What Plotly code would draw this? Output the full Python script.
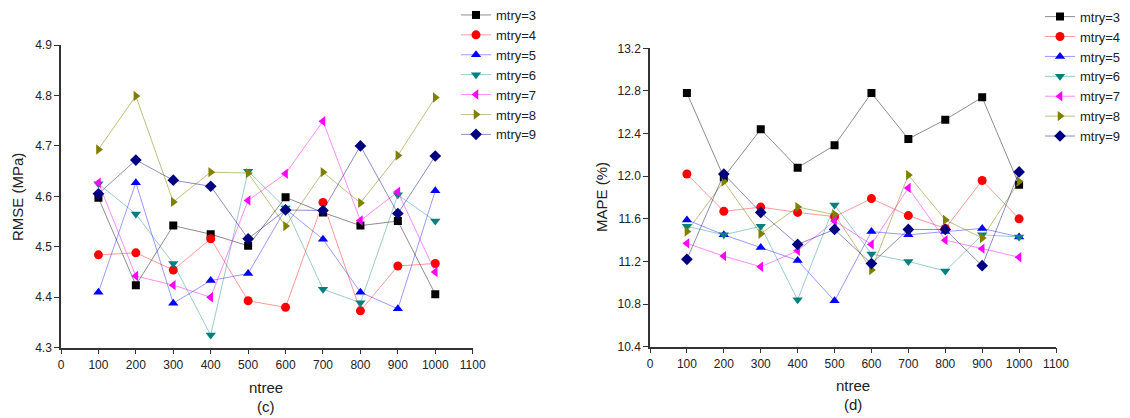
import plotly.graph_objects as go

ntree = [100, 200, 300, 400, 500, 600, 700, 800, 900, 1000]
series_names = ["mtry=3", "mtry=4", "mtry=5", "mtry=6", "mtry=7", "mtry=8", "mtry=9"]

rmse_m3 = [4.597, 4.424, 4.542, 4.525, 4.502, 4.598, 4.568, 4.542, 4.551, 4.406]
rmse_m4 = [4.484, 4.488, 4.454, 4.516, 4.393, 4.380, 4.588, 4.373, 4.462, 4.467]
rmse_m5 = [4.410, 4.627, 4.388, 4.433, 4.447, 4.575, 4.515, 4.410, 4.377, 4.611]
rmse_m6 = [4.625, 4.565, 4.467, 4.325, 4.650, 4.577, 4.416, 4.389, 4.603, 4.551]
rmse_m7 = [4.627, 4.442, 4.424, 4.400, 4.592, 4.645, 4.749, 4.552, 4.609, 4.450]
rmse_m8 = [4.693, 4.799, 4.589, 4.648, 4.646, 4.541, 4.648, 4.587, 4.681, 4.796]
rmse_m9 = [4.605, 4.672, 4.632, 4.620, 4.516, 4.573, 4.572, 4.700, 4.566, 4.680]

mape_m3 = [12.78, 11.99, 12.44, 12.08, 12.29, 12.78, 12.35, 12.53, 12.74, 11.92]
mape_m4 = [12.02, 11.67, 11.71, 11.66, 11.62, 11.79, 11.63, 11.51, 11.96, 11.60]
mape_m5 = [11.59, 11.45, 11.33, 11.21, 10.83, 11.48, 11.45, 11.48, 11.51, 11.43]
mape_m6 = [11.53, 11.45, 11.53, 10.84, 11.73, 11.27, 11.20, 11.11, 11.45, 11.43]
mape_m7 = [11.37, 11.25, 11.15, 11.30, 11.58, 11.36, 11.89, 11.40, 11.32, 11.24]
mape_m8 = [11.48, 11.95, 11.46, 11.71, 11.64, 11.12, 12.01, 11.59, 11.42, 11.95]
mape_m9 = [11.22, 12.02, 11.66, 11.36, 11.50, 11.18, 11.50, 11.50, 11.16, 12.04]

rmse_all = [rmse_m3, rmse_m4, rmse_m5, rmse_m6, rmse_m7, rmse_m8, rmse_m9]
mape_all = [mape_m3, mape_m4, mape_m5, mape_m6, mape_m7, mape_m8, mape_m9]

colors = ["#000000", "#FF0000", "#0000FF", "#008080", "#FF00FF", "#808000", "#000080"]
line_colors = ["rgba(0,0,0,0.45)", "rgba(255,0,0,0.4)", "rgba(0,0,255,0.4)",
               "rgba(0,128,128,0.4)", "rgba(255,0,255,0.45)", "rgba(128,128,0,0.5)",
               "rgba(0,0,128,0.45)"]
symbols = ["square", "circle", "triangle-up", "triangle-down", "triangle-left",
           "triangle-right", "diamond"]
sizes = [8, 9, 9, 9, 9, 9, 9]

FONT = "Liberation Sans, Arial, sans-serif"
TXT = "#222222"

fig = go.Figure()
for i, name in enumerate(series_names):
    fig.add_trace(go.Scatter(
        x=ntree, y=rmse_all[i], name=name, mode="lines+markers",
        line=dict(color=line_colors[i], width=1),
        marker=dict(symbol=symbols[i], size=sizes[i], color=colors[i]),
        xaxis="x", yaxis="y", legend="legend"))
for i, name in enumerate(series_names):
    fig.add_trace(go.Scatter(
        x=ntree, y=mape_all[i], name=name, mode="lines+markers",
        line=dict(color=line_colors[i], width=1),
        marker=dict(symbol=symbols[i], size=sizes[i], color=colors[i]),
        xaxis="x2", yaxis="y2", legend="legend2"))

W, H = 1130, 418

def fx(px):
    return px / W

def fy(py):
    return (H - py) / H

axis_common = dict(showline=True, linecolor="#333333", linewidth=1.5,
                   ticks="outside", ticklen=5, tickwidth=1.2, tickcolor="#333333",
                   showgrid=False, zeroline=False,
                   tickfont=dict(family=FONT, size=12, color=TXT))

def ann(text, x, y, angle=0):
    return dict(text=text, x=fx(x), y=fy(y), xref="paper", yref="paper",
                xanchor="center", yanchor="middle", textangle=angle,
                showarrow=False, font=dict(family=FONT, size=15, color=TXT))

fig.update_layout(
    width=W, height=H,
    margin=dict(l=0, r=0, t=0, b=0, pad=0, autoexpand=False),
    paper_bgcolor="white", plot_bgcolor="white",
    font=dict(family=FONT, color=TXT),
    xaxis=dict(domain=[fx(61), fx(472.7)], range=[0, 1100], dtick=100, tick0=0,
               anchor="y", **axis_common),
    yaxis=dict(domain=[fy(347.7), fy(45)], range=[4.3, 4.9], dtick=0.1, tick0=4.3,
               tickformat=".1f", anchor="x", **axis_common),
    xaxis2=dict(domain=[fx(650), fx(1056)], range=[0, 1100], dtick=100, tick0=0,
                anchor="y2", **axis_common),
    yaxis2=dict(domain=[fy(346.7), fy(48.3)], range=[10.4, 13.2], dtick=0.4, tick0=10.4,
                tickformat=".1f", anchor="x2", **axis_common),
    legend=dict(x=fx(456), y=1.0, xanchor="left", yanchor="top",
                font=dict(family=FONT, size=13, color=TXT),
                bgcolor="rgba(0,0,0,0)", tracegroupgap=0),
    legend2=dict(x=fx(1040), y=0.996, xanchor="left", yanchor="top",
                 font=dict(family=FONT, size=13, color=TXT),
                 bgcolor="rgba(0,0,0,0)", tracegroupgap=0),
    annotations=[
        ann("RMSE (MPa)", 18, 197, -90),
        ann("MAPE (%)", 602, 197, -90),
        ann("ntree", 266, 387),
        ann("(c)", 266, 406),
        ann("ntree", 853, 385),
        ann("(d)", 853, 404),
    ],
)

fig.write_html("out.html", config={"displayModeBar": False},
               post_script="document.body.style.margin='0px';")
